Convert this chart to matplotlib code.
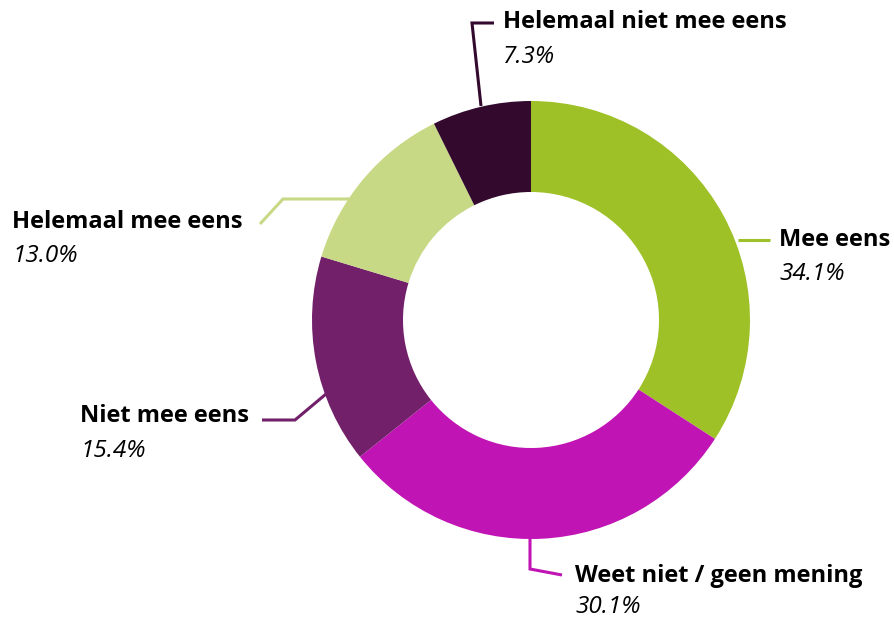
import matplotlib.pyplot as plt

labels = ["Mee eens", "Weet niet / geen mening", "Niet mee eens",
          "Helemaal mee eens", "Helemaal niet mee eens"]
values = [34.1, 30.1, 15.4, 13.0, 7.3]
colors = ["#9fc128", "#c014b4", "#72206a", "#c8d986", "#330a2d"]

W, H = 894, 621


def py(y):
    # pixel row (from top) -> data y
    return H - y


# leader line points (pixel coords) and label anchor: (x, name_y, pct_y)
leaders = [
    [(738, 240), (770, 240)],
    [(530, 538), (530, 569), (562, 575)],
    [(326, 394), (295, 420), (262, 420)],
    [(350, 199), (283, 199), (260, 224)],
    [(481, 106), (472, 23), (494, 23)],
]
label_pos = [
    (779, 240, 274),
    (575, 576, 607),
    (80, 416, 451),
    (12, 222, 256),
    (503, 22, 57),
]

fig = plt.figure(figsize=(W / 100, H / 100), dpi=100)
ax = fig.add_axes([0, 0, 1, 1])
ax.pie(values, colors=colors, startangle=90, counterclock=False,
       radius=219, center=(531, py(320)),
       wedgeprops=dict(width=91, edgecolor="none", linewidth=0))
ax.set_xlim(0, W)
ax.set_ylim(0, H)
ax.set_aspect("equal")
ax.axis("off")

for lab, val, col, pts, (tx, ny, pyy) in zip(labels, values, colors, leaders, label_pos):
    xs = [p[0] for p in pts]
    ys = [py(p[1]) for p in pts]
    ax.plot(xs, ys, color=col, lw=2.2, solid_capstyle="butt", solid_joinstyle="miter")
    ax.text(tx, py(ny), lab, ha="left", va="center", fontsize=17,
            fontweight="bold", family="Open Sans", color="black")
    ax.text(tx, py(pyy), f"{val:.1f}%", ha="left", va="center", fontsize=17.5,
            style="italic", family="Open Sans", color="black")

fig.savefig("out.png", dpi=100)
